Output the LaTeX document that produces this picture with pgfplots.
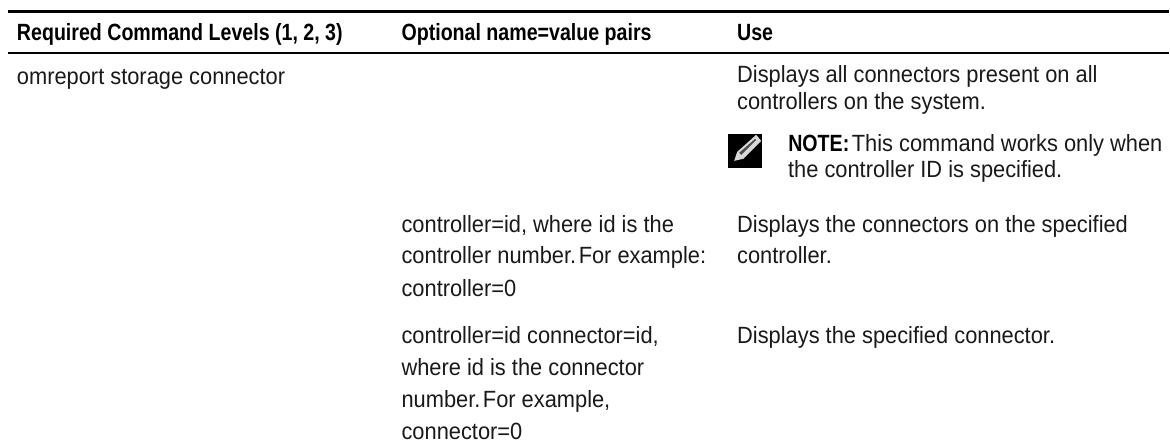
\documentclass[border=0pt]{standalone}
\usepackage{pgfplots}
\pgfplotsset{compat=1.18}
\usepackage{fontspec}
\setmainfont[FakeStretch=0.93,BoldFeatures={FakeStretch=0.835}]{Liberation Sans}
\newcommand{\T}[3]{\node[anchor=base west,inner sep=0pt,outer sep=0pt,font=\fontsize{23.5}{27}\selectfont,text=black!90] at (axis cs:#1,#2) {#3};}
\newcommand{\B}[3]{\node[anchor=base west,inner sep=0pt,outer sep=0pt,font=\fontsize{23.5}{27}\selectfont\bfseries] at (axis cs:#1,#2) {#3};}
\begin{document}
\begin{tikzpicture}
\begin{axis}[scale only axis,width=1170pt,height=444pt,xmin=0,xmax=1170,ymin=0,ymax=444,y dir=reverse,hide axis,clip=false]
\path (axis cs:0,0) rectangle (axis cs:1170,444);
\addplot[black,line width=2.6pt,forget plot] coordinates {(8,11.5) (1170,11.5)};
\addplot[black,line width=2.2pt,forget plot] coordinates {(8,53) (1170,53)};
\B{17}{41}{Required Command Levels (1, 2, 3)}
\B{402}{41}{Optional name=value pairs}
\B{738}{41}{Use}
\T{17}{85}{omreport storage connector}
\T{738}{83}{Displays all connectors present on all}
\T{738}{110}{controllers on the system.}
\fill[black] (axis cs:729,134) rectangle (axis cs:763,168);
\fill[white!85!black] (axis cs:735,161) -- (axis cs:738,152) -- (axis cs:757,135) -- (axis cs:762,141) -- (axis cs:744,159) -- cycle;
\fill[black!70] (axis cs:740,153) -- (axis cs:756,139) -- (axis cs:757,140) -- (axis cs:742,155) -- cycle;
\node[anchor=base west,inner sep=0pt,font=\fontsize{23.5}{27}\selectfont] at (axis cs:789,152) {\textbf{NOTE:}\hspace{2.5pt}\textcolor{black!90}{This command works only when}};
\T{789}{178}{the controller ID is specified.}
\T{402}{233}{controller=id, where id is the}
\T{402}{264}{controller number.\hspace{2.5pt}For example:}
\T{402}{297}{controller=0}
\T{402}{344}{controller=id connector=id,}
\T{402}{376}{where id is the connector}
\T{402}{408}{number.\hspace{2.5pt}For example,}
\T{402}{440}{connector=0}
\T{738}{233}{Displays the connectors on the specified}
\T{738}{264}{controller.}
\T{738}{344}{Displays the specified connector.}
\end{axis}
\end{tikzpicture}
\end{document}
